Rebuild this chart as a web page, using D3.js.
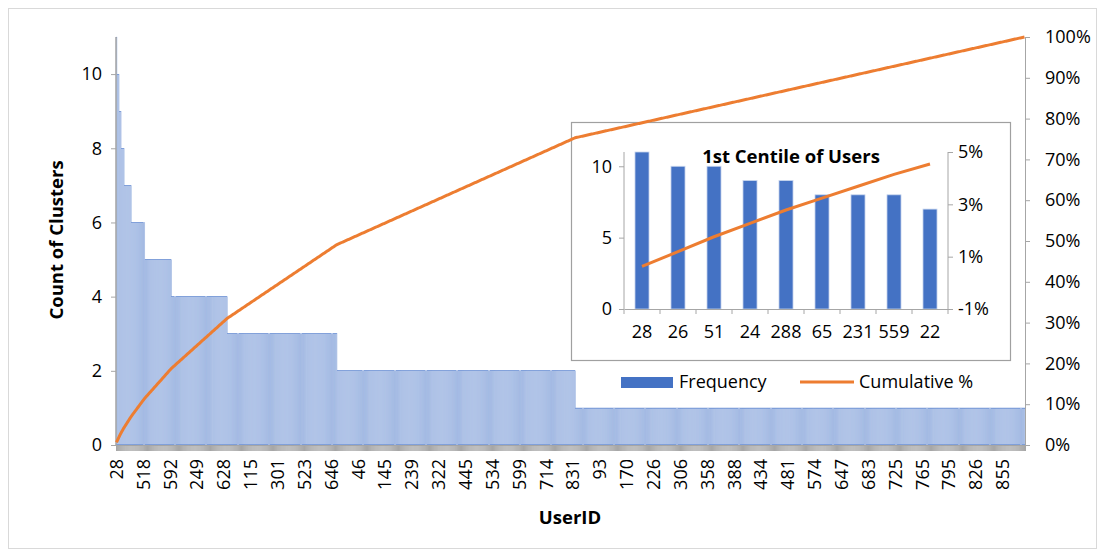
<!DOCTYPE html>
<html>
<head>
<meta charset="utf-8">
<script src="https://cdn.jsdelivr.net/npm/d3@7"></script>
<style>
  body { margin: 0; background: #fff; }
  text { font-family: "Open Sans", "Noto Sans", sans-serif; fill: #000; }
  .ax path, .ax line { stroke: #a6a6a6; }
</style>
</head>
<body>
<svg id="chart" width="1101" height="555"></svg>
<script>
// Main chart: users sorted by number of clusters (run-length: count -> how many users)
const countValues   = [11, 10, 9, 8, 7, 6, 5, 4, 3, 2, 1];
const usersPerCount = [1, 2, 2, 3, 7, 13, 26, 54, 106, 231, 435];

// only every 26th UserID is printed on the axis
const labelStep = 26;
const tickLabels = ["28", "518", "592", "249", "628", "115", "301", "523", "646", "46",
    "145", "239", "322", "445", "534", "599", "714", "831", "93", "170", "226", "306",
    "358", "388", "434", "481", "574", "647", "683", "725", "765", "795", "826", "855"];

// Inset: first centile of users
const insetUsers = ["28", "26", "51", "24", "288", "65", "231", "559", "22"];
const insetFreq  = [11, 10, 10, 9, 9, 8, 8, 8, 7];

const pctTicks = [0, 0.1, 0.2, 0.3, 0.4, 0.5, 0.6, 0.7, 0.8, 0.9, 1];
const insetPctTicks = [-0.01, 0.01, 0.03, 0.05];

const BLUE = "#4472C4", ORANGE = "#ED7D31";
const FS = 18;
const pct = d => Math.round(d * 100) + "%";

// expand runs into one frequency per user
let freq = [];
countValues.forEach((v, i) => { for (let k = 0; k < usersPerCount[i]; k++) freq.push(v); });
const total = d3.sum(freq);
let run = 0;
const cum = freq.map(f => (run += f) / total);
const idx = d3.range(freq.length);

const svg = d3.select("#chart");

// outer frame
svg.append("rect").attr("x", 8.5).attr("y", 8.5).attr("width", 1088).attr("height", 540)
    .attr("fill", "none").attr("stroke", "#d9d9d9");

const plot = { left: 116, right: 1025, top: 37, bottom: 445 };

let x = d3.scaleBand().domain(idx).range([plot.left, plot.right]).padding(0);
let y = d3.scaleLinear().domain([0, 11]).range([plot.bottom, plot.top]);
let yPct = d3.scaleLinear().domain([0, 1]).range([plot.bottom, plot.top]);

// bars
svg.append("g").selectAll("rect").data(idx).join("rect")
    .attr("x", d => x(d))
    .attr("y", d => y(freq[d]))
    .attr("width", x.bandwidth())
    .attr("height", d => y(0) - y(freq[d]))
    .attr("fill", "#b9cae9")
    .attr("stroke", "#7396d6")
    .attr("stroke-width", 0.2);

// x axis: one tick per user makes the grey band
let xAxis = svg.append("g").attr("class", "ax")
    .attr("transform", "translate(0," + plot.bottom + ")")
    .call(d3.axisBottom(x).tickSize(6).tickFormat(""));
xAxis.selectAll(".tick line").attr("stroke", "#8c8c8c");
xAxis.select(".domain").attr("stroke", "#8c8c8c");

svg.append("g").selectAll("text").data(tickLabels).join("text")
    .attr("transform", (d, i) => "translate(" + (x(i * labelStep) + x.bandwidth() / 2) + ",459) rotate(-90)")
    .attr("text-anchor", "end")
    .attr("dy", "0.35em")
    .attr("font-size", FS)
    .text(d => d);

// left axis
let yAxis = svg.append("g").attr("class", "ax")
    .attr("transform", "translate(" + plot.left + ",0)")
    .call(d3.axisLeft(y).tickValues([0, 2, 4, 6, 8, 10]).tickSize(5).tickSizeOuter(0));
yAxis.selectAll("text").attr("font-size", FS).attr("x", -14);
yAxis.select(".domain").attr("d", "M0," + plot.top + "V" + plot.bottom).attr("stroke-width", 1.5);

// right axis
let rAxis = svg.append("g").attr("class", "ax")
    .attr("transform", "translate(" + plot.right + ",0)")
    .call(d3.axisRight(yPct).tickValues(pctTicks).tickFormat(pct).tickSize(5).tickSizeOuter(0));
rAxis.selectAll("text").attr("font-size", FS).attr("x", 20);

// axis titles
svg.append("text").attr("transform", "translate(57,240) rotate(-90)")
    .attr("text-anchor", "middle").attr("dy", "0.35em")
    .attr("font-size", 18.5).attr("font-weight", "bold").text("Count of Clusters");
svg.append("text").attr("x", 570).attr("y", 518)
    .attr("text-anchor", "middle").attr("dy", "0.35em")
    .attr("font-size", 18.5).attr("font-weight", "bold").text("UserID");

// ---- inset ----
const inset = { left: 624, right: 948, top: 152, bottom: 309 };
svg.append("rect").attr("x", 571.5).attr("y", 122.5).attr("width", 439).attr("height", 238)
    .attr("fill", "#fff").attr("stroke", "#a0a0a0").attr("stroke-width", 1.2);

let ix = d3.scaleBand().domain(insetUsers).range([inset.left, inset.right])
    .paddingInner(0.61).paddingOuter(0.305);
let iy = d3.scaleLinear().domain([0, 11]).range([inset.bottom, inset.top]);
let iyPct = d3.scaleLinear().domain([-0.01, 0.05]).range([inset.bottom, inset.top]);

svg.append("g").selectAll("rect").data(insetUsers).join("rect")
    .attr("x", d => ix(d))
    .attr("y", (d, i) => iy(insetFreq[i]))
    .attr("width", ix.bandwidth())
    .attr("height", (d, i) => iy(0) - iy(insetFreq[i]))
    .attr("fill", BLUE)
    .attr("stroke", "#c9d6ee")
    .attr("stroke-width", 0.8);

let iyAxis = svg.append("g").attr("class", "ax")
    .attr("transform", "translate(" + inset.left + ",0)")
    .call(d3.axisLeft(iy).tickValues([0, 5, 10]).tickSize(5).tickSizeOuter(0));
iyAxis.selectAll("text").attr("font-size", FS).attr("x", -12);
iyAxis.select(".domain").attr("d", "M0," + inset.top + "V" + inset.bottom);

let irAxis = svg.append("g").attr("class", "ax")
    .attr("transform", "translate(" + inset.right + ",0)")
    .call(d3.axisRight(iyPct).tickValues(insetPctTicks).tickFormat(pct).tickSize(5).tickSizeOuter(0));
irAxis.selectAll("text").attr("font-size", FS).attr("x", 10);
irAxis.select(".domain").attr("d", "M0," + inset.top + "V" + inset.bottom);

// inset category axis, ticks between categories
let ixAxis = svg.append("g").attr("class", "ax")
    .attr("transform", "translate(0," + inset.bottom + ")")
    .call(d3.axisBottom(ix).tickSize(0).tickPadding(16));
ixAxis.selectAll("text").attr("font-size", FS);
ixAxis.selectAll("line.sep").data(d3.range(insetUsers.length + 1)).join("line")
    .attr("class", "sep")
    .attr("x1", i => inset.left + i * ix.step()).attr("x2", i => inset.left + i * ix.step())
    .attr("y1", 0).attr("y2", 5).attr("stroke", "#a6a6a6");

const insetCum = insetUsers.map((d, i) => cum[i]);
svg.append("path").datum(insetUsers)
    .attr("fill", "none").attr("stroke", ORANGE).attr("stroke-width", 3)
    .attr("d", d3.line().x(d => ix(d) + ix.bandwidth() / 2).y((d, i) => iyPct(insetCum[i])));

svg.append("text").attr("x", 791).attr("y", 157)
    .attr("text-anchor", "middle").attr("dy", "0.35em")
    .attr("font-size", 18.5).attr("font-weight", "bold").text("1st Centile of Users");

// ---- legend ----
svg.append("rect").attr("x", 621).attr("y", 377).attr("width", 52).attr("height", 11).attr("fill", BLUE);
svg.append("text").attr("x", 679).attr("y", 382).attr("dy", "0.35em").attr("font-size", FS).text("Frequency");
svg.append("line").attr("x1", 800).attr("x2", 854).attr("y1", 382).attr("y2", 382)
    .attr("stroke", ORANGE).attr("stroke-width", 3);
svg.append("text").attr("x", 859).attr("y", 382).attr("dy", "0.35em").attr("font-size", FS).text("Cumulative %");

// main cumulative line on top of everything
svg.append("path").datum(idx)
    .attr("fill", "none").attr("stroke", ORANGE).attr("stroke-width", 3)
    .attr("d", d3.line().x(d => x(d) + x.bandwidth() / 2).y(d => yPct(cum[d])));
</script>
</body>
</html>
